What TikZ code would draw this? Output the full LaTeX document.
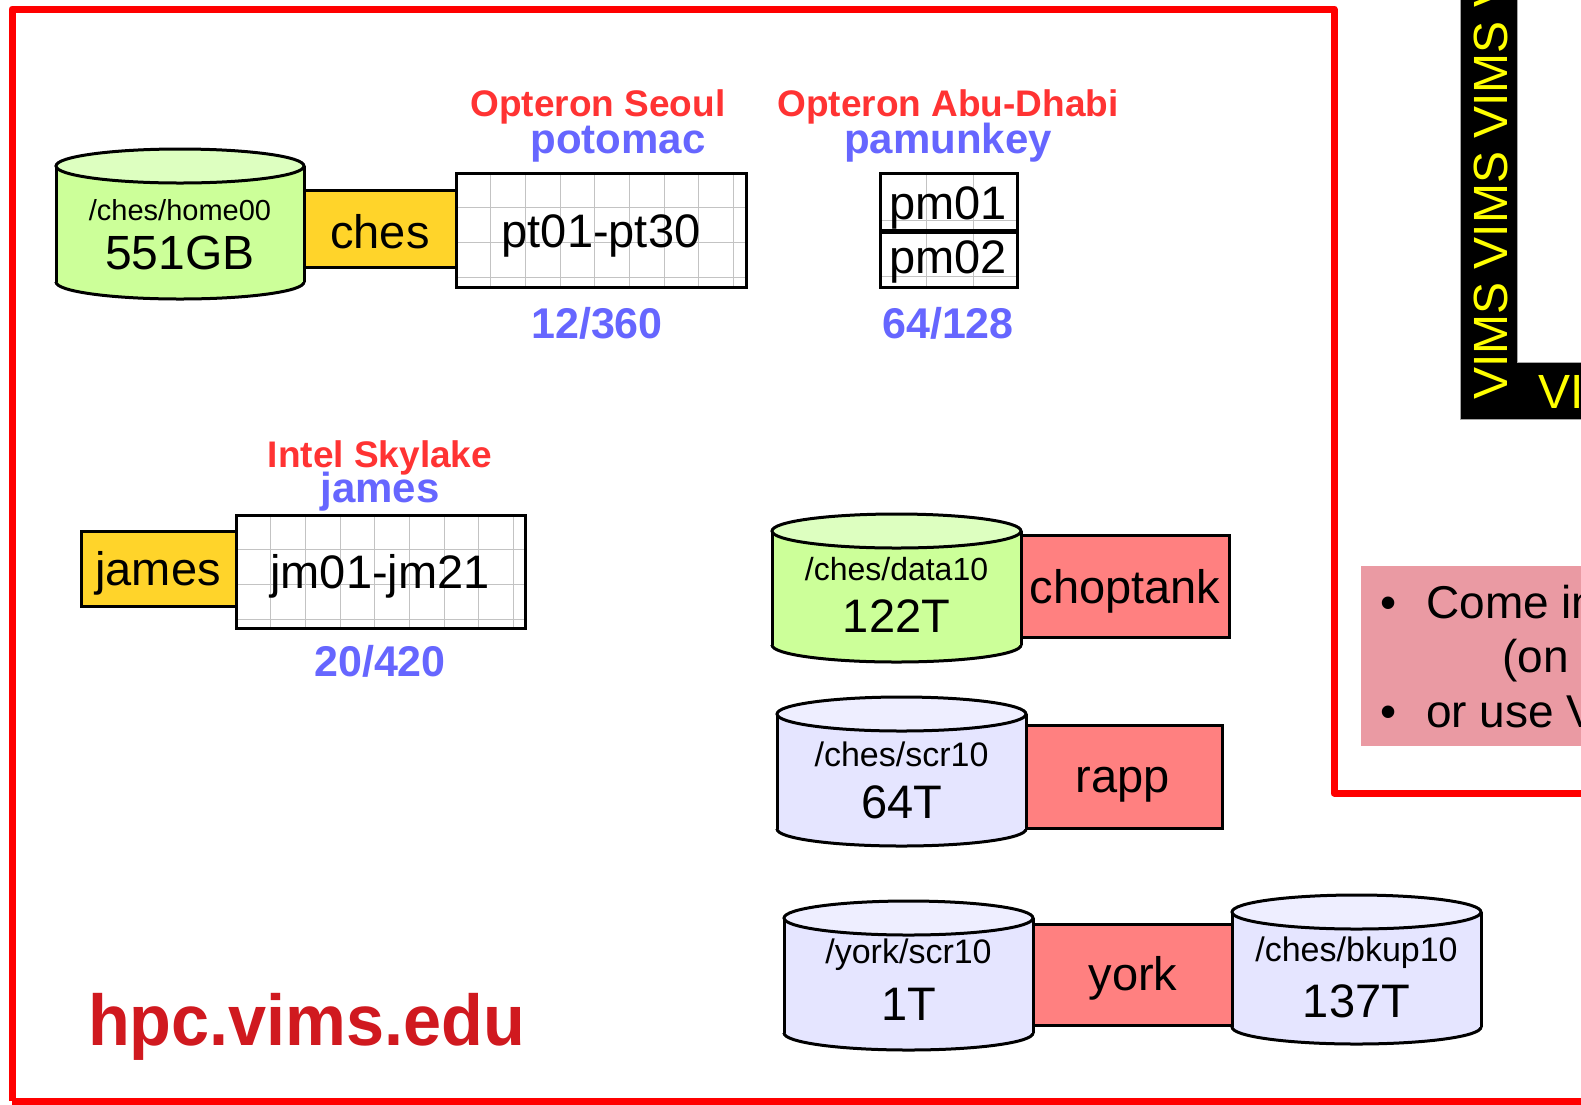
\documentclass[tikz,border=0pt]{standalone}
\usepackage{fontspec}
\setmainfont{Liberation Sans}
\newcommand{\myfs}[1]{\fontsize{#1}{#1}\selectfont}
\definecolor{framered}{RGB}{255,0,0}
\definecolor{lblred}{RGB}{255,51,51}
\definecolor{lblblue}{RGB}{102,102,255}
\definecolor{gold}{RGB}{255,212,42}
\definecolor{salmon}{RGB}{255,128,128}
\definecolor{greenbody}{RGB}{204,255,153}
\definecolor{greentop}{RGB}{221,255,192}
\definecolor{lavbody}{RGB}{229,229,255}
\definecolor{lavtop}{RGB}{238,238,255}
\definecolor{pinkbox}{RGB}{234,154,163}
\definecolor{urlred}{RGB}{208,25,31}
\definecolor{gridgray}{RGB}{195,195,195}
\definecolor{vimsyellow}{RGB}{255,255,0}
\tikzset{
  box/.style={draw=black, line width=3pt, inner sep=0pt, outer sep=0pt},
  gridline/.style={draw=gridgray, line width=1pt},
  tagred/.style={text=lblred, font=\myfs{37}\bfseries, anchor=base, inner sep=0pt},
  tagblue/.style={text=lblblue, font=\myfs{42}\bfseries, anchor=base, inner sep=0pt},
  bigtxt/.style={font=\myfs{47}, anchor=base, inner sep=0pt},
  smalltxt/.style={font=\myfs{29}, anchor=base, inner sep=0pt},
}
% rectangle node: name x1 y1 x2 y2 fill
\newcommand{\mybox}[6]{\node[box, fill=#6, minimum width={#4-#2}, minimum height={#5-#3}] (#1) at ({(#2+#4)/2},{(#3+#5)/2}) {};}
% grid lines inside a box: x1 y1 x2 y2 xstep ystep
\newcommand{\mygrid}[6]{%
  \begin{scope}
  \clip (#1,#2) rectangle (#3,#4);
  \foreach \gx in {1,...,12} {\draw[gridline] ({#1+\gx*#5},#2) -- ({#1+\gx*#5},#4);}
  \foreach \gy in {1,...,6} {\draw[gridline] (#1,{#2+\gy*#6}) -- (#3,{#2+\gy*#6});}
  \end{scope}
  \draw[line width=3pt] (#1,#2) rectangle (#3,#4);
}
% cylinder: x1 x2 ytop ybot bodyfill topfill name
\newcommand{\mycyl}[7]{%
  \pgfmathsetmacro\cx{(#1+#2)/2}
  \pgfmathsetmacro\rx{(#2-#1)/2}
  \fill[#5] (#1,#3) rectangle (#2,#4);
  \fill[#5] (\cx,#4) ellipse [x radius=\rx, y radius=17];
  \begin{scope}
    \clip (#1-5,#4) rectangle (#2+5,#4+25);
    \draw[line width=3pt] (\cx,#4) ellipse [x radius=\rx, y radius=17];
  \end{scope}
  \draw[line width=3pt] (#1,#3) -- (#1,#4) (#2,#3) -- (#2,#4);
  \filldraw[fill=#6, line width=3pt] (\cx,#3) ellipse [x radius=\rx, y radius=17];
  \coordinate (#7) at (\cx,{(#3+#4)/2});
}
\begin{document}
\begin{tikzpicture}[x=1pt,y=-1pt]
\useasboundingbox (0,0) rectangle (1581,1104);
\clip (0,0) rectangle (1581,1104);
\fill[white] (0,0) rectangle (1581,1104);

% ---- red frame
\draw[framered, line width=7pt, line join=round] (12,1101) -- (12,9) -- (1334,9) -- (1334,793) -- (1600,793);
\draw[framered, line width=7pt] (12,1101) -- (1600,1101);

% ---- VIMS black L
\filldraw[fill=black, draw=gray!70, line width=1pt] (1460,-5) -- (1460,419) -- (1600,419) -- (1600,362) -- (1517,362) -- (1517,-5) -- cycle;
\node[rotate=90, anchor=base west, text=vimsyellow, font=\myfs{48}, inner sep=0pt] (vimsv) at (1507,400) {VIMS VIMS VIMS VIMS};
\node[anchor=base west, text=vimsyellow, font=\myfs{48}, inner sep=0pt] (vimsh) at (1538,408) {VIMS};

% ---- pink info box
\fill[pinkbox] (1361,566) rectangle (1600,746);
\node[anchor=base west, font=\myfs{46}, inner sep=0pt] (b1) at (1380,618) {•};
\node[anchor=base west, font=\myfs{46}, inner sep=0pt] (t1) at (1426,618) {Come in};
\node[anchor=base west, font=\myfs{46}, inner sep=0pt] (t2) at (1502,672) {(on};
\node[anchor=base west, font=\myfs{46}, inner sep=0pt] (b2) at (1380,727) {•};
\node[anchor=base west, font=\myfs{46}, inner sep=0pt] (t3) at (1426,727) {or use VIMS};

% ---- ches / potomac
\mybox{chesbox}{300}{190}{457}{267}{gold}
\node[bigtxt] (chestxt) at (380,248) {ches};
\mycyl{56}{304}{166}{282}{greenbody}{greentop}{home}
\node[smalltxt] (homepath) at (180,220) {/ches/home00};
\node[font=\myfs{48}, anchor=base, inner sep=0pt] (homesize) at (180,269) {551GB};
\mybox{ptbox}{456}{173}{746}{287}{white}
\mygrid{456}{173}{746}{287}{34.7}{34.7}
\node[bigtxt] (pttxt) at (601,247) {pt01-pt30};
\node[tagred] (seoul) at (598,116) {Opteron Seoul};
\node[tagblue] (potomac) at (618,153) {potomac};
\node[tagblue, font=\myfs{43}\bfseries] (ptcnt) at (597,338) {12/360};

% ---- pamunkey
\mybox{pm1box}{880}{173}{1017}{231}{white}
\mygrid{880}{173}{1017}{231}{46.5}{47}
\mybox{pm2box}{880}{231}{1017}{287}{white}
\mygrid{880}{231}{1017}{287}{46.5}{45}
\draw[line width=5pt] (pm1box.south west) -- (pm1box.south east);
\node[bigtxt, font=\myfs{47}] (pm1) at (948,219) {pm01};
\node[bigtxt, font=\myfs{47}] (pm2) at (948,273) {pm02};
\node[tagred] (abu) at (948,116) {Opteron Abu-Dhabi};
\node[tagblue] (pamunkey) at (948,153) {pamunkey};
\node[tagblue, font=\myfs{43}\bfseries] (pmcnt) at (948,338) {64/128};

% ---- james
\mybox{jamesbox}{81}{531}{236}{606}{gold}
\node[bigtxt] (jamestxt) at (158,585) {james};
\mybox{jmbox}{236}{515}{525}{628}{white}
\mygrid{236}{515}{525}{628}{34.7}{34.7}
\node[bigtxt] (jmtxt) at (380,588) {jm01-jm21};
\node[tagred] (skylake) at (380,467) {Intel Skylake};
\node[tagblue] (jameslbl) at (380,502) {james};
\node[tagblue, font=\myfs{43}\bfseries] (jmcnt) at (380,676) {20/420};

% ---- choptank
\mybox{chopbox}{1021}{535}{1229}{637}{salmon}
\node[bigtxt] (choptxt) at (1125,603) {choptank};
\mycyl{772}{1021}{531}{645}{greenbody}{greentop}{data}
\node[smalltxt, font=\myfs{32}] (datapath) at (896.5,580) {/ches/data10};
\node[bigtxt] (datasize) at (896.5,632) {122T};

% ---- rapp
\mybox{rappbox}{1026}{725}{1222}{828}{salmon}
\node[bigtxt] (rapptxt) at (1123,792) {rapp};
\mycyl{777}{1026}{714}{829}{lavbody}{lavtop}{scr}
\node[smalltxt, font=\myfs{34}] (scrpath) at (901.5,766) {/ches/scr10};
\node[bigtxt] (scrsize) at (901.5,818) {64T};

% ---- york
\mybox{yorkbox}{1033}{924}{1232}{1025}{salmon}
\node[bigtxt] (yorktxt) at (1133,990) {york};
\mycyl{784}{1033}{918}{1033}{lavbody}{lavtop}{yscr}
\node[smalltxt, font=\myfs{34}] (yscrpath) at (908.5,963) {/york/scr10};
\node[bigtxt] (yscrsize) at (908.5,1020) {1T};
\mycyl{1232}{1481}{912}{1027}{lavbody}{lavtop}{bkup}
\node[smalltxt, font=\myfs{34}] (bkuppath) at (1356.5,961) {/ches/bkup10};
\node[bigtxt] (bkupsize) at (1356.5,1017) {137T};

% ---- url
\node[anchor=base west, text=urlred, font=\myfs{72}\bfseries, inner sep=0pt] (url) at (88,1045) {\scalebox{0.95}[1]{hpc.vims.edu}};
\end{tikzpicture}
\end{document}
